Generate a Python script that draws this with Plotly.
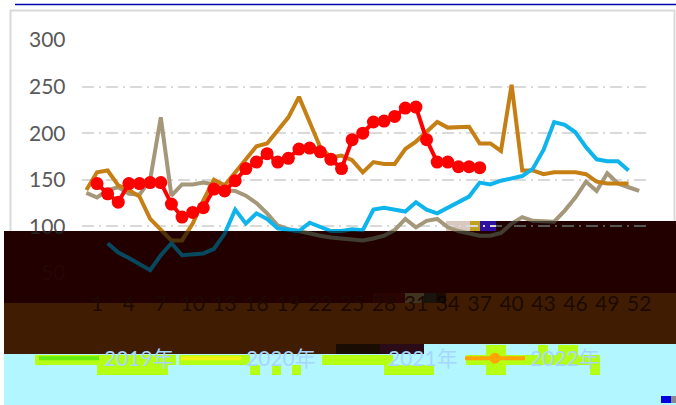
import plotly.graph_objects as go

W, H = 676, 405
series_names = ["2019年", "2020年", "2021年", "2022年"]
tick_weeks = list(range(1, 53, 3))
y_ticks = [50, 100, 150, 200, 250, 300]
y_tick_text = ["<span style='color:#5a1010'>50</span>", "100", "150", "200", "250", "300"]

weeks_2019 = list(range(0, 53))
values_2019 = [136, 131, 139, 142, 135, 134, 150, 217, 133, 145, 145, 147, 145, 139, 138, 133, 125,
               114, 101, 97, 95, 92, 90, 88, 87, 85, 85, 87, 90, 96, 108, 99, 106, 108, 99, 95, 92,
               90, 90, 93, 103, 110, 106, 105, 105, 117, 131, 148, 138, 157, 146, 142, 138]
weeks_2020 = list(range(0, 52))
values_2020 = [139, 158, 160, 144, 139, 132, 108, 97, 85, 85, 103, 128, 150, 144, 158, 173, 186, 189,
               203, 217, 239, 211, 185, 174, 176, 171, 158, 169, 167, 167, 183, 191, 201, 212, 206,
               207, 207, 189, 189, 181, 252, 160, 160, 156, 158, 158, 158, 156, 148, 146, 146, 146]
weeks_2021 = list(range(2, 52))
values_2021 = [82, 72, 66, 59, 53, 69, 82, 69, 70, 71, 76, 92, 118, 103, 114, 108, 98, 96, 95, 104, 99,
               95, 95, 97, 96, 118, 120, 118, 116, 126, 118, 114, 120, 125, 132, 147, 145, 149, 152,
               154, 162, 182, 212, 209, 201, 185, 172, 170, 170, 160]
weeks_2022 = list(range(1, 38))
values_2022 = [146, 135, 126, 146, 146, 147, 147, 124, 110, 115, 120, 140, 138, 149, 162, 169, 178, 169,
               173, 183, 184, 180, 172, 162, 193, 200, 212, 213, 218, 227, 228, 193, 169, 169, 164,
               164, 163]

line_colors = ["#A5987A", "#C67F14", "#0FB4EC", "#FF0000"]
legend_colors = ["#66EE11", "#EEF511", "#B4FF14", "#FFA500"]

def px(x): return x / W
def py(y): return 1 - y / H

fig = go.Figure()
for wk, val, name, col in zip([weeks_2019, weeks_2020, weeks_2021], [values_2019, values_2020, values_2021],
                              series_names, line_colors):
    fig.add_trace(go.Scatter(x=wk, y=val, mode="lines", name=name, showlegend=False,
                             line=dict(color=col, width=4, shape="linear")))
fig.add_trace(go.Scatter(x=weeks_2022, y=values_2022, mode="lines+markers", name=series_names[3], showlegend=False,
                         line=dict(color=line_colors[3], width=4),
                         marker=dict(color=line_colors[3], size=13), cliponaxis=False))
# legend keys
for i, name in enumerate(series_names):
    fig.add_trace(go.Scatter(x=[None], y=[None], mode="lines+markers" if i == 3 else "lines", name=name,
                             line=dict(color=legend_colors[i], width=4),
                             marker=dict(color=legend_colors[i], size=11)))

def rect(x0, y0, x1, y1, color, layer="below"):
    return dict(type="rect", xref="paper", yref="paper", x0=px(x0), x1=px(x1), y0=py(y0), y1=py(y1),
                fillcolor=color, line=dict(width=0), layer=layer)

DARK, BROWN, CYAN, LIME = "#580000", "#A04A05", "#B2F6FF", "#B4FF14"
shapes = [
    dict(type="rect", xref="paper", yref="paper", x0=px(10.5), x1=px(674.5), y0=py(10.5), y1=py(300),
         fillcolor="rgba(0,0,0,0)", line=dict(color="#D9D9D9", width=2), layer="below"),
    dict(type="line", xref="paper", yref="paper", x0=px(15), x1=1, y0=py(4.5), y1=py(4.5),
         line=dict(color="#0000B0", width=1.5), layer="below"),
    rect(4, 231, 446, 303, DARK), rect(446, 231, 676, 293, DARK), rect(496, 221, 676, 231, DARK),
    rect(4, 303, 424, 354, BROWN), rect(424, 293, 676, 344, BROWN),
    rect(4, 354, 424, 405, CYAN), rect(424, 344, 676, 405, CYAN),
    rect(35, 355, 176, 365, LIME), rect(97, 365, 168, 375, LIME),
    rect(179, 355, 250, 365, LIME), rect(250, 365, 260, 375, LIME), rect(272, 365, 281, 375, LIME), rect(292, 365, 301, 375, LIME),
    rect(322, 355, 393, 365, LIME), rect(384, 365, 434, 375, LIME),
    rect(486, 345, 506, 375, LIME), rect(466, 355, 600, 365, LIME),
    rect(538, 345, 548, 355, LIME), rect(558, 345, 578, 355, LIME), rect(590, 365, 600, 375, LIME),
    rect(661, 396, 671, 403, "#0000E0"), rect(671, 396, 676, 403, "#888888"),
    rect(446, 221, 470, 231, "#D8C8C0"), rect(470, 221, 480, 231, "#C0A020"), rect(480, 221, 496, 231, "#3010A0"),
    rect(373, 293, 405, 303, "#6A0808"), rect(405, 293, 436, 303, "#A08050"),
    rect(336, 344, 380, 354, "#402008"), rect(380, 344, 424, 354, "#6A2040"),
    rect(4, 231, 446, 303, "rgba(0,0,0,0.6)", "above"), rect(446, 231, 676, 293, "rgba(0,0,0,0.6)", "above"),
    rect(496, 221, 676, 231, "rgba(0,0,0,0.6)", "above"),
    rect(4, 303, 424, 354, "rgba(0,0,0,0.6)", "above"), rect(424, 293, 676, 344, "rgba(0,0,0,0.6)", "above"),
]

fig.update_layout(
    width=W, height=H, autosize=False, margin=dict(l=0, r=0, t=0, b=0, pad=0, autoexpand=False),
    paper_bgcolor="white", plot_bgcolor="rgba(0,0,0,0)",
    font=dict(family="Lato, 'Noto Sans CJK SC', sans-serif", size=21, color="#595959"),
    shapes=shapes,
    xaxis=dict(domain=[px(81.7), px(648)], range=[-0.44, 52.83], tickmode="array", tickvals=tick_weeks,
               ticktext=[str(t) for t in tick_weeks], showgrid=False, zeroline=False, showline=False,
               ticks="outside", ticklen=12, tickcolor="rgba(0,0,0,0)", tickangle=0, automargin=False,
               tickfont=dict(color="#4A1800")),
    yaxis=dict(domain=[py(273), py(40)], range=[50, 300], tickmode="array", tickvals=y_ticks, ticktext=y_tick_text,
               zeroline=False, showline=False, showgrid=True, gridcolor="#D9D9D9", griddash="12px,5px,2px,5px", gridwidth=2,
               ticks="outside", ticklen=11, tickcolor="rgba(0,0,0,0)", automargin=False),
    legend=dict(orientation="h", x=px(34), y=py(338), xanchor="left", yanchor="top", bgcolor="rgba(0,0,0,0)",
                font=dict(size=21, color="#A6D6FF"), entrywidth=67, entrywidthmode="pixels", itemwidth=60,
                tracegroupgap=0),
)
fig.write_html("out.html", config={"displayModeBar": False},
               post_script="document.body.style.margin='0';document.body.style.overflow='hidden';")
